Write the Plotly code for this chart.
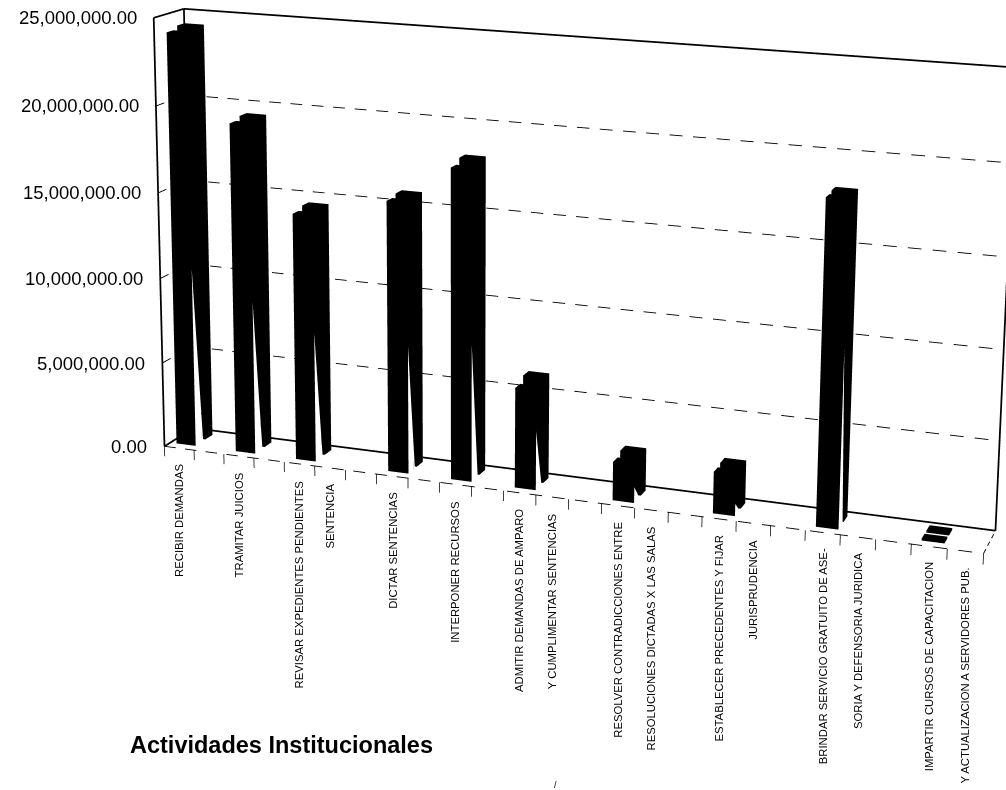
import plotly.graph_objects as go

# ---------- data ----------
categories = ["RECIBIR DEMANDAS", "", "TRAMITAR JUICIOS", "", "REVISAR EXPEDIENTES PENDIENTES", "SENTENCIA", "",
              "DICTAR SENTENCIAS", "", "INTERPONER RECURSOS", "", "ADMITIR DEMANDAS DE AMPARO",
              "Y CUMPLIMENTAR SENTENCIAS", "", "RESOLVER CONTRADICCIONES ENTRE", "RESOLUCIONES DICTADAS X LAS SALAS", "",
              "ESTABLECER PRECEDENTES Y FIJAR", "JURISPRUDENCIA", "", "BRINDAR SERVICIO GRATUITO DE ASE-",
              "SORIA Y DEFENSORIA JURIDICA", "", "IMPARTIR CURSOS DE CAPACITACION", "Y ACTUALIZACION A SERVIDORES PUB."]
series_front = [24.1e6, None, 19.2e6, None, 14.35e6, None, None, 15.6e6, None, 17.8e6, None, 5.75e6, None, None,
                2.2e6, None, None, 2.35e6, None, None, 18.0e6, None, None, 0.1e6, None]
series_rear = [24.3e6, None, 19.4e6, None, 14.55e6, None, None, 15.75e6, None, 18.1e6, None, 6.1e6, None, None,
               2.45e6, None, None, 2.45e6, None, None, 18.1e6, None, None, 0.1e6, None]
series_light = [10.6e6, None, 9e6, None, 7.6e6, None, None, 7.5e6, None, 8e6, None, 3.4e6, None, None,
                0.9e6, None, None, 0.7e6, None, None, 10e6, None, None, 0, None]
value_ticks = [0, 5e6, 10e6, 15e6, 20e6, 25e6]
value_labels = ["0.00", "5,000,000.00", "10,000,000.00", "15,000,000.00", "20,000,000.00", "25,000,000.00"]
axis_title = "Actividades Institucionales"

# The scene is laid out larger than the window so its optical centre falls where the original chart's did.
W, H, X0, TOP = 1195, 2039, 98, 907
XR, YR, ZR = (-0.5, 25.5), (-0.1, 1.1), (-1e6, 26e6)

WIDTH, OFF = 0.64, 0.53
FRONT, REAR = (0.2, 0.42), (0.55, 0.8)


def boxes(values, d0, d1):
    X, Y, Z, I, J, K = [], [], [], [], [], []
    quads = [(0, 1, 2, 3), (4, 5, 6, 7), (0, 1, 5, 4), (1, 2, 6, 5), (2, 3, 7, 6), (3, 0, 4, 7)]
    for i, v in enumerate(values):
        if v is None:
            continue
        n = len(X)
        a, b = i + OFF - WIDTH / 2, i + OFF + WIDTH / 2
        X += [a, b, b, a, a, b, b, a]
        Y += [d0, d0, d1, d1, d0, d0, d1, d1]
        Z += [0, 0, 0, 0, v, v, v, v]
        for q in quads:
            I += [n + q[0], n + q[0]]
            J += [n + q[1], n + q[2]]
            K += [n + q[2], n + q[3]]
    return X, Y, Z, I, J, K


fig = go.Figure()
FLAT = dict(ambient=1, diffuse=0, specular=0)
for name, vals, dd in [("Serie 1", series_front, FRONT), ("Serie 2", series_rear, REAR)]:
    X, Y, Z, I, J, K = boxes(vals, *dd)
    fig.add_trace(go.Mesh3d(x=X, y=Y, z=Z, i=I, j=J, k=K, color="black", flatshading=True, name=name,
                            hoverinfo="skip", lighting=FLAT))

# pale wedge between the two columns
X, Y, Z, I, J, K = [], [], [], [], [], []
for i, v in enumerate(series_light):
    if not v:
        continue
    m = len(X)
    b = i + OFF + WIDTH / 2 + 0.01
    X += [b, b, b]
    Y += [FRONT[0], 0.46, FRONT[0]]
    Z += [0, 0, v]
    I.append(m)
    J.append(m + 1)
    K.append(m + 2)
fig.add_trace(go.Mesh3d(x=X, y=Y, z=Z, i=I, j=J, k=K, color="white", flatshading=True, hoverinfo="skip",
                        lighting=FLAT))


def seglines(segs, width, color="black"):
    X, Y, Z = [], [], []
    for (a, b) in segs:
        X += [a[0], b[0], None]
        Y += [a[1], b[1], None]
        Z += [a[2], b[2], None]
    fig.add_trace(go.Scatter3d(x=X, y=Y, z=Z, mode="lines", line=dict(color=color, width=width), hoverinfo="skip"))


def dashed(a, b, parts):
    out = []
    for k in range(parts):
        t0, t1 = k / parts, (k + 0.55) / parts
        out.append((tuple(a[i] + (b[i] - a[i]) * t0 for i in range(3)),
                    tuple(a[i] + (b[i] - a[i]) * t1 for i in range(3))))
    return out


n = len(categories)
top = value_ticks[-1]
seglines([((0, 0, 0), (0, 0, top)), ((0, 0, top), (0, 1, top)), ((0, 1, top), (n, 1, top)), ((0, 1, 0), (0, 1, top)),
          ((0, 1, 0), (n, 1, 0)), ((n, 1, 0), (n, 1, top)), ((0, 0, 0), (0, 1, 0))], 3.5)
grid = []
for v in value_ticks[1:-1]:
    grid += dashed((0, 0, v), (0, 1, v), 2) + dashed((0, 1, v), (n, 1, v), 36)
grid += dashed((0, 0, 0), (n, 0, 0), 36) + dashed((n, 0, 0), (n, 1, 0), 3)
seglines(grid, 1.8)
seglines([((i, 0, 0), (i, 0, -0.6e6)) for i in range(n + 1)], 1.5)

ann = []
for v, t in zip(value_ticks, value_labels):
    ann.append(dict(x=0, y=0, z=v, text=t, showarrow=False, xanchor="right", yanchor="middle", xshift=-15,
                    font=dict(family="Liberation Sans", size=18.5, color="black")))
for i, t in enumerate(categories):
    if t:
        ann.append(dict(x=i + 0.5, y=0, z=0, text=t, showarrow=False, textangle=-90, xanchor="center", yanchor="top",
                        yshift=-14, font=dict(family="Liberation Sans", size=11.3, color="black")))

noax = dict(visible=False, showgrid=False, zeroline=False, showticklabels=False, showspikes=False)
fig.update_layout(
    width=W, height=H, margin=dict(l=0, r=0, t=0, b=0), paper_bgcolor="white", showlegend=False,
    scene=dict(domain=dict(x=[X0 / W, 1], y=[0, 1]), bgcolor="white", aspectmode="manual",
               aspectratio=dict(x=1.8331, y=0.1536, z=1),
               camera=dict(eye=dict(x=1.6274, y=-4.5104, z=1.2951), center=dict(x=0.1980, y=-0.0939, z=0.3531),
                           up=dict(x=-0.0606, y=0.1369, z=1.0044), projection=dict(type="perspective")),
               xaxis=dict(range=list(XR), **noax), yaxis=dict(range=list(YR), **noax),
               zaxis=dict(range=list(ZR), **noax), annotations=ann),
    annotations=[dict(x=128 / W, y=1 - (745 + TOP) / H, xref="paper", yref="paper", text="<b>" + axis_title + "</b>",
                      showarrow=False, xanchor="left", yanchor="middle",
                      font=dict(family="Liberation Sans", size=23.5, color="black")),
                 dict(x=555 / W, y=1 - (785 + TOP) / H, xref="paper", yref="paper", text="/", showarrow=False,
                      yanchor="middle", font=dict(family="Liberation Sans", size=9, color="black"))],
)
fig.write_html("out.html", config={"displayModeBar": False},
               post_script="document.documentElement.style.overflow='hidden';document.body.style.margin='0';"
                           "var g=document.getElementById('{plot_id}');g.style.position='absolute';g.style.left='0';"
                           "g.style.top='-%dpx';" % TOP)
